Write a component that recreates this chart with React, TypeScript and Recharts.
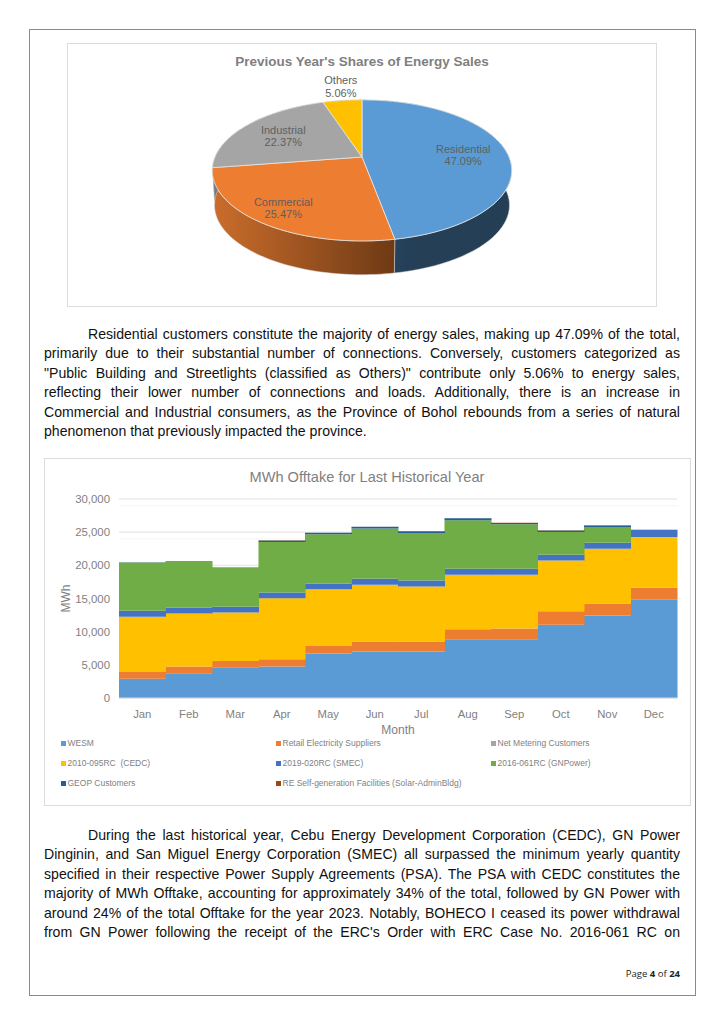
import React from 'react';
import { PieChart, Pie, Cell, BarChart, Bar, XAxis, YAxis, CartesianGrid, Legend, Label } from 'recharts';

const pieNames = ['Residential', 'Commercial', 'Industrial', 'Others'];
const pieShares = [47.09, 25.47, 22.37, 5.06];
const pieColors = ['#5B9BD5', '#ED7D31', '#A5A5A5', '#FFC000'];

const months = ['Jan', 'Feb', 'Mar', 'Apr', 'May', 'Jun', 'Jul', 'Aug', 'Sep', 'Oct', 'Nov', 'Dec'];
const wesm = [2920, 3725, 4630, 4730, 6695, 7000, 7000, 8860, 8860, 11025, 12430, 14800];
const retail = [1005, 1005, 960, 1110, 1155, 1510, 1510, 1510, 1610, 2065, 1820, 1810];
const netMetering = [5, 5, 5, 5, 5, 5, 5, 5, 5, 5, 5, 5];
const cedc = [8300, 8000, 7295, 9205, 8555, 8550, 8300, 8200, 8100, 7645, 8245, 7650];
const smec = [910, 905, 855, 860, 860, 905, 905, 905, 905, 860, 910, 1055];
const gnPower = [7300, 7000, 5935, 7600, 7400, 7600, 7150, 7300, 6700, 3420, 2360, 0];
const geop = [10, 10, 10, 250, 250, 250, 250, 300, 220, 250, 250, 40];
const reSelf = [5, 5, 5, 5, 5, 5, 5, 5, 5, 5, 5, 5];

const seriesNames = ['WESM', 'Retail Electricity Suppliers', 'Net Metering Customers', '2010-095RC  (CEDC)', '2019-020RC (SMEC)', '2016-061RC (GNPower)', 'GEOP Customers', 'RE Self-generation Facilities (Solar-AdminBldg)'];
const seriesValues = [wesm, retail, netMetering, cedc, smec, gnPower, geop, reSelf];
const seriesColors = ['#5B9BD5', '#ED7D31', '#A5A5A5', '#FFC000', '#4472C4', '#70AD47', '#255E91', '#9E480E'];
const majorTicks = [0, 5000, 10000, 15000, 20000, 25000, 30000];
const minorTicks = [1000, 2000, 3000, 4000, 6000, 7000, 8000, 9000, 11000, 12000, 13000, 14000, 16000, 17000, 18000, 19000, 21000, 22000, 23000, 24000, 26000, 27000, 28000, 29000];

const paragraphOne = [
  'Residential customers constitute the majority of energy sales, making up 47.09% of the total,',
  'primarily due to their substantial number of connections. Conversely, customers categorized as',
  '"Public Building and Streetlights (classified as Others)" contribute only 5.06% to energy sales,',
  'reflecting their lower number of connections and loads. Additionally, there is an increase in',
  'Commercial and Industrial consumers, as the Province of Bohol rebounds from a series of natural',
  'phenomenon that previously impacted the province.',
];
const paragraphTwo = [
  'During the last historical year, Cebu Energy Development Corporation (CEDC), GN Power',
  'Dinginin, and San Miguel Energy Corporation (SMEC) all surpassed the minimum yearly quantity',
  'specified in their respective Power Supply Agreements (PSA). The PSA with CEDC constitutes the',
  'majority of MWh Offtake, accounting for approximately 34% of the total, followed by GN Power with',
  "around 24% of the total Offtake for the year 2023. Notably, BOHECO I ceased its power withdrawal",
  "from GN Power following the receipt of the ERC's Order with ERC Case No. 2016-061 RC on",
];

const pieData = pieNames.map((name, i) => ({ name, value: pieShares[i] }));
const barData = months.map((month, i) => {
  const row: Record<string, string | number> = { month };
  seriesNames.forEach((s, j) => { row[s] = seriesValues[j][i]; });
  return row;
});

const FONT = '"Liberation Sans", Arial, sans-serif';
const TILT = 0.4626;
const PERSPECTIVE = 0.19;
const DEPTH = 35;
const LABEL_RADIUS = [0.7, 0.8, 0.67, 1.29];
const LABEL_NUDGE = [[0, 0], [-1, -2], [0, -1], [3, -3]];

// Projects a point of the pie's circular plane (r in 0..1, clockwise angle from north) onto the page.
function project(cx: number, cy: number, a: number, r: number, rechartsAngle: number, shrink = 1, dy = 0) {
  const t = (rechartsAngle * Math.PI) / 180;
  const x = r * Math.cos(t);
  const y = r * Math.sin(t);
  const w = 1 + PERSPECTIVE * y;
  return [cx + (a * shrink * x) / w, cy - (a * TILT * shrink * y) / w + dy];
}

function arcPoints(p: any, shrink = 1, dy = 0) {
  const pts: number[][] = [];
  const n = 60;
  for (let i = 0; i <= n; i++) {
    const ang = p.startAngle + ((p.endAngle - p.startAngle) * i) / n;
    pts.push(project(p.cx, p.cy, p.outerRadius, 1, ang, shrink, dy));
  }
  return pts;
}
const toPath = (pts: number[][]) => pts.map((q, i) => `${i ? 'L' : 'M'}${q[0].toFixed(2)},${q[1].toFixed(2)}`).join(' ');

function TopFace(p: any) {
  const d = `M${p.cx},${p.cy} ${toPath(arcPoints(p)).replace('M', 'L')} Z`;
  return <path d={d} fill={p.fill} stroke="#e6e6e6" strokeWidth={0.8} strokeLinejoin="round" />;
}
function WallFace(p: any) {
  const top = arcPoints(p);
  const bottom = arcPoints(p, 0.985, DEPTH).reverse();
  const idx = pieColors.indexOf(p.fill);
  return <path d={`${toPath(top)} ${toPath(bottom).replace('M', 'L')} Z`} fill={`url(#wall${idx})`} stroke="#d8d8d8" strokeWidth={0.5} />;
}
function PieText(p: any) {
  const i = p.index;
  const q = project(p.cx, p.cy, p.outerRadius, LABEL_RADIUS[i], p.midAngle);
  const x = q[0] + LABEL_NUDGE[i][0];
  const y = q[1] + LABEL_NUDGE[i][1];
  return (
    <text x={x} y={y} textAnchor="middle" fontFamily={FONT} fontSize={11} fill="#5f5f5f">
      <tspan x={x} dy={0}>{pieNames[i]}</tspan>
      <tspan x={x} dy={12.5}>{pieShares[i].toFixed(2)}%</tspan>
    </text>
  );
}

function LegendGrid(props: any) {
  const items = seriesNames;
  return (
    <div style={{ position: 'relative', width: 646, height: 66, fontFamily: FONT, fontSize: 8.5, color: '#7f7f7f' }}>
      {items.map((name, i) => (
        <div key={name} style={{ position: 'absolute', left: 17 + (i % 3) * 215, top: (Math.floor(i / 3)) * 20 - 2, whiteSpace: 'pre', lineHeight: '12px' }}>
          <span style={{ display: 'inline-block', width: 5, height: 5, background: seriesColors[i], marginRight: 1.5, verticalAlign: 0.5 }} />
          {name}
        </div>
      ))}
    </div>
  );
}

function TextLines({ lines, top, step }: { lines: string[]; top: number; step: number }) {
  return (
    <>
      {lines.map((line, i) => (
        <div key={i} style={{
          position: 'absolute', left: i === 0 ? 88 : 44, width: i === 0 ? 592 : 636, top: top + i * step,
          fontFamily: FONT, fontSize: 14.1, lineHeight: '18px', color: '#111', textAlign: 'justify',
          textAlignLast: line.length < 60 ? 'left' : 'justify', whiteSpace: 'normal',
        }}>{line}</div>
      ))}
    </>
  );
}

export default function App() {
  return (
    <div style={{ position: 'absolute', left: 0, top: 0, width: 724, height: 1024, background: '#fff', overflow: 'hidden' }}>
      <div style={{ position: 'absolute', left: 29, top: 29, width: 665, height: 965, border: '1px solid #8a8a8a' }} />
      <div style={{ position: 'absolute', left: 67, top: 43, width: 588, height: 262, border: '1px solid #dcdcdc' }} />
      <div style={{ position: 'absolute', left: 44, top: 458, width: 645, height: 346, border: '1px solid #dcdcdc' }} />

      <div style={{ position: 'absolute', left: 67, top: 43 }}>
        <PieChart width={589} height={263} margin={{ top: 0, right: 0, bottom: 0, left: 0 }}>
          <defs>
            <linearGradient id="wall0" x1="0" x2="1" y1="0" y2="0">
              <stop offset="0" stopColor="#2d4f6f" /><stop offset="0.3" stopColor="#243f57" /><stop offset="1" stopColor="#243f55" />
            </linearGradient>
            <linearGradient id="wall1" x1="0" x2="1" y1="0" y2="0">
              <stop offset="0" stopColor="#cb6d2c" /><stop offset="1" stopColor="#6e3a14" />
            </linearGradient>
            <linearGradient id="wall2" x1="0" x2="1" y1="0" y2="0">
              <stop offset="0" stopColor="#7a7a7a" /><stop offset="1" stopColor="#7a7a7a" />
            </linearGradient>
            <linearGradient id="wall3" x1="0" x2="1" y1="0" y2="0">
              <stop offset="0" stopColor="#b98b00" /><stop offset="1" stopColor="#b98b00" />
            </linearGradient>
          </defs>
          <text x={295} y={23} textAnchor="middle" fontFamily={FONT} fontSize={13.5} fontWeight={700} fill="#7f7f7f">Previous Year's Shares of Energy Sales</text>
          <Pie data={pieData} dataKey="value" nameKey="name" cx={295} cy={114} outerRadius={147} innerRadius={0} startAngle={90} endAngle={-270}
            stroke="none" shape={WallFace} inactiveShape={WallFace} isAnimationActive={false} labelLine={false} legendType="none">
            {pieNames.map((n, i) => <Cell key={n} fill={pieColors[i]} />)}
          </Pie>
          <Pie data={pieData} dataKey="value" nameKey="name" cx={295} cy={114} outerRadius={147} innerRadius={0} startAngle={90} endAngle={-270}
            stroke="none" shape={TopFace} inactiveShape={TopFace} isAnimationActive={false} labelLine={false} label={PieText}>
            {pieNames.map((n, i) => <Cell key={n} fill={pieColors[i]} />)}
          </Pie>
        </PieChart>
      </div>

      <TextLines lines={paragraphOne} top={325} step={19.4} />

      <div style={{ position: 'absolute', left: 44, top: 458 }}>
        <BarChart width={646} height={347} data={barData} barCategoryGap={0} margin={{ top: 41, right: 13, bottom: 0, left: 0 }}>
          <text x={323} y={24} textAnchor="middle" fontFamily={FONT} fontSize={14.6} fill="#7f7f7f">MWh Offtake for Last Historical Year</text>
          <CartesianGrid vertical={false} horizontalValues={minorTicks} stroke="#f2f2f2" strokeWidth={0.8} syncWithTicks={false} />
          <CartesianGrid vertical={false} horizontalValues={majorTicks} stroke="#dedede" strokeWidth={0.9} syncWithTicks={false} />
          <XAxis dataKey="month" axisLine={{ stroke: '#d9d9d9' }} tickLine={false} height={41} interval={0}
            tick={{ fontFamily: FONT, fontSize: 11.3, fill: '#7f7f7f' }} tickMargin={6}>
            <Label value="Month" position="insideBottom" offset={5} style={{ fontFamily: FONT, fontSize: 12, fill: '#7f7f7f' }} />
          </XAxis>
          <YAxis width={75} domain={[0, 30000]} ticks={majorTicks} axisLine={false} tickLine={false} tickMargin={3}
            tickFormatter={(v: number) => v.toLocaleString('en-US')} tick={{ fontFamily: FONT, fontSize: 11.4, fill: '#7f7f7f' }}>
            <Label value="MWh" angle={-90} position="insideLeft" offset={22} style={{ fontFamily: FONT, fontSize: 12, fill: '#7f7f7f', textAnchor: 'middle' }} />
          </YAxis>
          <Legend verticalAlign="bottom" height={66} width={646} content={<LegendGrid />} wrapperStyle={{ left: 0 }} />
          {seriesNames.map((s, i) => (
            <Bar key={s} dataKey={s} stackId="offtake" fill={seriesColors[i]} isAnimationActive={false} />
          ))}
        </BarChart>
      </div>

      <TextLines lines={paragraphTwo} top={826} step={19.4} />

      <div style={{ position: 'absolute', left: 580, width: 100, top: 968, textAlign: 'right', fontFamily: '"Open Sans", sans-serif', fontSize: 9.5, color: '#222', lineHeight: '12px' }}>
        Page <b>4</b> of <b>24</b>
      </div>
    </div>
  );
}
